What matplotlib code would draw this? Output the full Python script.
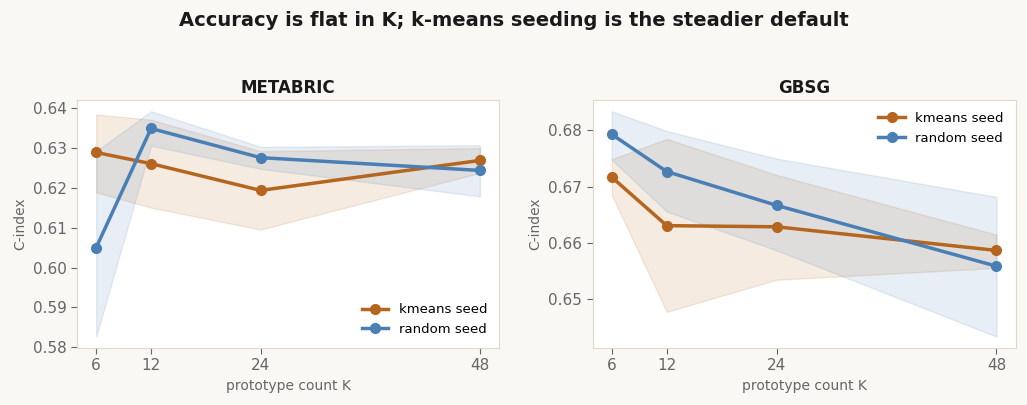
import matplotlib
matplotlib.use("Agg")
import matplotlib.pyplot as plt
import numpy as np

K = [6, 12, 24, 48]

# METABRIC
met_km = [0.6288, 0.6260, 0.6193, 0.6268]
met_km_lo = [0.6188, 0.6150, 0.6095, 0.6237]
met_km_hi = [0.6383, 0.6370, 0.6291, 0.6299]
met_rd = [0.6050, 0.6348, 0.6275, 0.6243]
met_rd_lo = [0.5827, 0.6305, 0.6247, 0.6178]
met_rd_hi = [0.6291, 0.6391, 0.6302, 0.6306]

# GBSG
gb_km = [0.6717, 0.6631, 0.6629, 0.6587]
gb_km_lo = [0.6685, 0.6478, 0.6535, 0.6556]
gb_km_hi = [0.6749, 0.6785, 0.6721, 0.6615]
gb_rd = [0.6793, 0.6727, 0.6667, 0.6559]
gb_rd_lo = [0.6748, 0.6656, 0.6587, 0.6434]
gb_rd_hi = [0.6834, 0.6799, 0.6750, 0.6682]

c_km = "#b5651d"
c_rd = "#4a7fb5"
bg = "#faf8f4"
spine = "#e2d8c8"
grey = "#666666"

fig = plt.figure(figsize=(10.27, 4.05), dpi=100, facecolor=bg)
ax1 = fig.add_axes([0.075, 0.141, 0.411, 0.612])
ax2 = fig.add_axes([0.577, 0.141, 0.412, 0.612])

panels = [
    (ax1, "METABRIC", met_km, met_km_lo, met_km_hi, met_rd, met_rd_lo, met_rd_hi, "lower right"),
    (ax2, "GBSG", gb_km, gb_km_lo, gb_km_hi, gb_rd, gb_rd_lo, gb_rd_hi, "upper right"),
]

for ax, name, km, km_lo, km_hi, rd, rd_lo, rd_hi, loc in panels:
    ax.set_facecolor("white")
    ax.fill_between(K, km_lo, km_hi, color=c_km, alpha=0.13, linewidth=1)
    ax.fill_between(K, rd_lo, rd_hi, color=c_rd, alpha=0.13, linewidth=1)
    ax.plot(K, km, color=c_km, lw=2.5, marker="o", ms=7, label="kmeans seed")
    ax.plot(K, rd, color=c_rd, lw=2.5, marker="o", ms=7, label="random seed")
    ax.set_xticks(K)
    ax.set_title(name, fontsize=12, fontweight="bold", color="#1a1a1a", pad=5)
    ax.set_xlabel("prototype count K", fontsize=10, color=grey)
    ax.set_ylabel("C-index", fontsize=10, color=grey)
    ax.tick_params(labelsize=11, colors=grey, length=4)
    for s in ax.spines.values():
        s.set_color(spine)
    ax.legend(loc=loc, frameon=False, fontsize=9.5)

ax1.set_yticks(np.arange(0.58, 0.6401, 0.01))
ax1.yaxis.set_major_formatter(plt.FormatStrFormatter("%.2f"))
ax2.set_yticks([0.65, 0.66, 0.67, 0.68])
ax2.yaxis.set_major_formatter(plt.FormatStrFormatter("%.2f"))

fig.suptitle("Accuracy is flat in K; k-means seeding is the steadier default",
             fontsize=14, fontweight="bold", color="#1a1a1a", y=0.972)

fig.savefig("out.png", dpi=100, facecolor=bg)
